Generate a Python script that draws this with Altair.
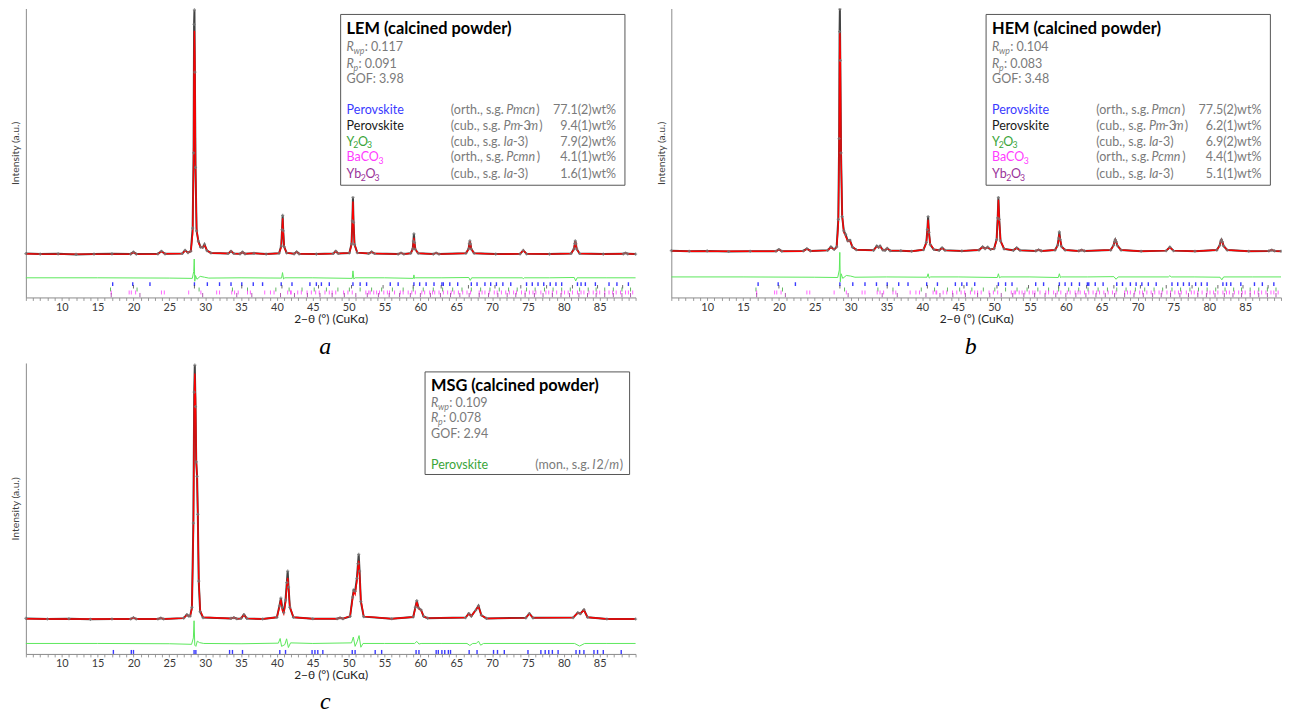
import altair as alt
import pandas as pd

# ---------------- data ----------------
# x-axis tick labels and minor ticks
X_LABELS = [10, 15, 20, 25, 30, 35, 40, 45, 50, 55, 60, 65, 70, 75, 80, 85]
X_MINOR = list(range(5, 91))

# Panel a : LEM
theta_a = [5.0, 7.0, 9.5, 12.0, 14.5, 17.0, 19.6, 20.0, 20.4, 23.4, 23.9, 24.4,
           26.8, 27.2, 27.6, 28.0, 28.25, 28.38, 28.45, 28.5, 28.56, 28.65, 28.8, 29.05, 29.35, 29.65, 29.9, 30.25, 30.8,
           33.2, 33.6, 34.0, 34.85, 35.2, 35.55, 36.8, 38.5,
           40.3, 40.6, 40.72, 40.8, 40.88, 41.0, 41.35, 42.4, 42.75, 43.1, 45.5, 47.85, 48.2, 48.55,
           50.1, 50.4, 50.52, 50.6, 50.68, 50.82, 51.2, 52.8, 53.2, 53.6, 56.9, 57.3, 57.7,
           58.65, 58.93, 59.03, 59.1, 59.18, 59.3, 59.7, 61.8, 62.2, 62.6,
           66.35, 66.72, 66.83, 66.9, 66.98, 67.1, 67.5, 70.5, 73.9, 74.35, 74.8, 78.0,
           81.0, 81.42, 81.53, 81.6, 81.68, 81.8, 82.2, 85.5, 88.3, 88.6, 88.9, 90.0]
obs_a = [15.2, 15.0, 15.1, 14.9, 15.0, 15.1, 15.0, 15.7, 15.0, 15.1, 16.0, 15.1,
         15.2, 16.3, 15.5, 16.0, 24.0, 50.0, 94.5, 99.5, 78.0, 45.0, 23.0, 19.5, 17.4, 17.3, 18.4, 16.2, 15.4,
         15.2, 16.0, 15.2, 15.1, 15.7, 15.1, 15.3, 15.0,
         15.3, 17.8, 23.5, 28.4, 23.0, 17.6, 15.4, 15.1, 15.8, 15.1, 15.0, 15.2, 16.0, 15.2,
         15.4, 18.5, 26.5, 34.6, 26.0, 18.3, 15.5, 15.2, 15.8, 15.2, 15.0, 15.4, 15.0,
         15.3, 16.8, 19.5, 22.0, 19.0, 16.6, 15.3, 15.0, 15.4, 15.0,
         15.3, 16.8, 18.6, 19.6, 18.5, 16.7, 15.3, 15.0, 15.1, 16.3, 15.1, 15.0,
         15.2, 16.8, 18.7, 19.6, 18.5, 16.7, 15.2, 15.0, 15.1, 15.4, 15.1, 15.0]
calc_a = [15.1, 15.0, 15.0, 15.0, 15.0, 15.0, 15.0, 15.6, 15.0, 15.0, 15.9, 15.1,
          15.2, 16.2, 15.5, 16.0, 22.0, 46.0, 80.0, 92.3, 82.0, 46.0, 24.0, 19.0, 17.5, 17.2, 18.2, 16.3, 15.4,
          15.2, 16.1, 15.2, 15.1, 15.7, 15.1, 15.3, 15.0,
          15.3, 17.6, 23.0, 27.4, 23.0, 17.6, 15.4, 15.1, 15.8, 15.1, 15.0, 15.2, 16.0, 15.2,
          15.4, 18.3, 26.0, 33.2, 26.0, 18.3, 15.5, 15.2, 15.8, 15.2, 15.0, 15.4, 15.0,
          15.3, 16.6, 19.0, 20.6, 19.0, 16.6, 15.3, 15.0, 15.4, 15.0,
          15.3, 16.7, 18.5, 19.5, 18.5, 16.7, 15.3, 15.0, 15.1, 16.3, 15.1, 15.0,
          15.2, 16.7, 18.6, 19.5, 18.5, 16.7, 15.2, 15.0, 15.1, 15.4, 15.1, 15.0]
diff_theta_a = [5, 15, 25, 28.2, 28.4, 28.47, 28.55, 28.65, 28.85, 29.3, 29.9, 30.5,
                35, 40.65, 40.78, 40.92, 41.1, 45, 50.5, 50.6, 50.72, 50.9, 55, 59.02, 59.1, 59.18, 59.3,
                63, 66.75, 66.95, 67.15, 74.2, 74.35, 74.5, 78, 81.45, 81.65, 81.85, 86, 90]
diff_a = [6.8, 6.8, 6.7, 6.6, 9.0, 13.3, 5.6, 7.6, 6.3, 7.3, 7.0, 6.7,
          6.8, 6.7, 8.6, 6.4, 6.8, 6.8, 6.6, 9.2, 6.4, 6.8, 6.8, 6.6, 7.8, 6.6, 6.8,
          6.8, 6.9, 5.9, 6.8, 6.8, 6.5, 6.8, 6.8, 6.9, 5.7, 6.8, 6.8, 6.8]

# Panel b : HEM
theta_b = [5.0, 7.5, 10.0, 13.0, 16.0, 19.6, 20.0, 20.4, 23.4, 23.9, 24.4,
           26.8, 27.25, 27.7, 28.05, 28.28, 28.4, 28.46, 28.5, 28.56, 28.66, 28.82, 29.05, 29.3, 29.6, 29.9, 30.25, 30.8,
           33.2, 33.65, 33.9, 34.1, 34.5, 34.8, 35.1, 35.5, 37.0, 38.5,
           40.15, 40.55, 40.7, 40.8, 40.92, 41.1, 41.6, 42.35, 42.75, 43.15, 45.5, 47.9, 48.4, 48.75, 49.1, 49.5,
           50.0, 50.35, 50.5, 50.6, 50.72, 50.9, 51.4, 52.7, 53.15, 53.6, 55.8, 56.2, 56.6,
           58.5, 58.85, 59.0, 59.1, 59.22, 59.4, 59.9, 61.8, 62.2, 62.6,
           66.25, 66.65, 66.8, 66.9, 67.02, 67.2, 67.7, 70.5, 74.0, 74.5, 75.0, 78.0,
           81.05, 81.45, 81.6, 81.7, 81.82, 82.0, 82.5, 85.5, 88.3, 88.7, 89.1, 90.0]
obs_b = [16.2, 16.0, 16.1, 15.9, 16.0, 16.0, 16.6, 16.0, 16.1, 16.9, 16.1,
         16.3, 17.5, 16.6, 17.5, 27.0, 55.0, 92.0, 99.8, 82.0, 50.0, 28.0, 23.0, 21.8, 19.6, 19.8, 17.4, 16.5,
         16.3, 17.8, 17.3, 17.8, 16.4, 16.3, 17.0, 16.2, 16.2, 16.0,
         16.5, 19.0, 23.5, 28.0, 22.5, 18.3, 16.6, 16.3, 17.2, 16.3, 16.1, 16.4, 17.5, 16.9, 17.4, 16.6,
         16.9, 20.0, 27.5, 34.6, 27.0, 19.5, 16.8, 16.3, 17.2, 16.3, 16.1, 16.5, 16.1,
         16.4, 18.0, 20.5, 22.7, 20.0, 17.6, 16.4, 16.1, 16.4, 16.1,
         16.4, 18.0, 19.4, 20.0, 19.3, 17.9, 16.4, 16.0, 16.2, 17.4, 16.2, 16.0,
         16.4, 18.0, 19.5, 20.0, 19.3, 17.8, 16.4, 16.0, 16.1, 16.4, 16.1, 16.0]
calc_b = [16.1, 16.0, 16.0, 16.0, 16.0, 16.0, 16.5, 16.0, 16.0, 16.8, 16.1,
          16.3, 17.3, 16.6, 17.4, 25.0, 52.0, 82.0, 91.6, 84.0, 50.0, 28.5, 22.5, 21.2, 19.5, 19.6, 17.5, 16.5,
          16.3, 17.6, 17.2, 17.7, 16.4, 16.3, 17.0, 16.2, 16.2, 16.0,
          16.5, 18.8, 23.0, 26.9, 22.5, 18.5, 16.6, 16.3, 17.1, 16.3, 16.1, 16.4, 17.4, 16.9, 17.3, 16.6,
          16.9, 19.8, 27.0, 33.8, 27.0, 19.6, 16.8, 16.3, 17.1, 16.3, 16.1, 16.5, 16.1,
          16.4, 17.9, 20.0, 21.8, 20.0, 17.6, 16.4, 16.1, 16.4, 16.1,
          16.4, 18.0, 19.3, 20.0, 19.3, 17.9, 16.4, 16.0, 16.2, 17.3, 16.2, 16.0,
          16.4, 17.9, 19.4, 20.0, 19.3, 17.8, 16.4, 16.0, 16.1, 16.4, 16.1, 16.0]
diff_theta_b = [5, 15, 25, 28.2, 28.42, 28.49, 28.56, 28.68, 28.9, 29.4, 30.0, 30.6,
                35, 40.65, 40.8, 40.95, 41.15, 45, 50.45, 50.6, 50.75, 50.95, 55, 58.95, 59.1, 59.25, 59.4,
                63, 66.7, 67.0, 67.3, 74.3, 74.5, 74.7, 78, 81.5, 81.75, 82.0, 86, 90]
diff_b = [7.1, 7.1, 7.0, 6.9, 9.5, 15.6, 5.4, 8.2, 6.6, 7.6, 7.4, 7.0,
          7.1, 7.0, 8.2, 6.7, 7.1, 7.1, 6.9, 8.2, 6.8, 7.1, 7.1, 6.9, 8.2, 6.9, 7.1,
          7.1, 7.2, 6.3, 7.1, 7.1, 7.5, 7.1, 7.1, 7.0, 6.1, 7.1, 7.1, 7.1]

# Panel c : MSG
theta_c = [5.0, 8.0, 11.0, 14.0, 17.0, 19.6, 20.0, 20.4, 23.4, 23.8, 24.2,
           27.0, 27.45, 27.7, 27.9, 28.15, 28.35, 28.47, 28.55, 28.65, 28.75, 28.87, 28.97, 29.1, 29.3, 29.7,
           33.6, 34.0, 34.4, 35.0, 35.4, 35.8, 38.0,
           40.0, 40.35, 40.55, 40.75, 40.95, 41.2, 41.38, 41.5, 41.62, 41.8, 42.3, 45.0, 48.4, 48.8, 49.2,
           50.2, 50.55, 50.7, 50.9, 51.15, 51.3, 51.4, 51.52, 51.7, 52.1, 56.0,
           59.0, 59.3, 59.5, 59.75, 60.1, 60.45, 61.0,
           66.3, 66.75, 67.1, 67.7, 68.1, 68.5, 69.2, 74.7, 75.2, 75.7,
           81.3, 81.95, 82.3, 82.8, 83.3, 86.0, 90.0]
obs_c = [12.2, 12.0, 12.1, 11.9, 12.0, 12.0, 12.5, 12.0, 12.0, 12.3, 12.0,
         12.3, 13.5, 13.0, 13.0, 16.0, 45.0, 90.0, 99.3, 85.0, 66.0, 61.0, 48.0, 25.0, 14.5, 12.5,
         12.2, 12.5, 12.1, 12.2, 13.5, 12.2, 12.0,
         12.6, 16.5, 19.2, 16.0, 14.2, 18.5, 24.5, 28.5, 23.0, 16.0, 12.6, 12.1, 12.1, 12.4, 12.1,
         12.9, 19.5, 21.9, 21.5, 26.0, 31.0, 34.2, 28.5, 18.0, 12.8, 12.1,
         12.7, 16.0, 18.3, 15.8, 15.1, 12.9, 12.3,
         12.5, 13.9, 13.0, 15.0, 16.5, 13.3, 12.2, 12.4, 13.9, 12.4,
         12.5, 14.2, 13.8, 15.2, 12.6, 12.0, 12.0]
calc_c = [12.1, 12.0, 12.0, 12.0, 12.0, 12.0, 12.4, 12.0, 12.0, 12.3, 12.0,
          12.3, 13.4, 13.0, 13.0, 15.5, 42.0, 84.0, 96.4, 88.0, 67.0, 60.5, 48.0, 26.0, 15.0, 12.6,
          12.2, 12.5, 12.1, 12.2, 13.5, 12.2, 12.0,
          12.6, 16.2, 18.8, 15.0, 13.8, 17.5, 23.5, 26.2, 22.5, 16.2, 12.6, 12.1, 12.1, 12.4, 12.1,
          13.0, 19.0, 21.4, 20.5, 25.0, 30.0, 32.0, 28.0, 18.5, 12.9, 12.1,
          12.7, 15.8, 18.0, 15.6, 15.0, 12.9, 12.3,
          12.5, 13.8, 13.0, 15.0, 16.4, 13.3, 12.2, 12.4, 13.8, 12.4,
          12.5, 14.1, 13.8, 15.1, 12.6, 12.0, 12.0]
diff_theta_c = [5, 15, 25, 28.1, 28.35, 28.45, 28.55, 28.7, 28.9, 29.2, 29.8,
                35, 40.2, 40.45, 40.65, 41.1, 41.35, 41.6, 41.9,
                45, 50.4, 50.65, 50.9, 51.2, 51.45, 51.7, 52.0,
                55, 59.2, 59.5, 59.8, 60.1,
                63, 66.5, 66.9, 67.3, 67.8, 68.1, 68.4, 68.8,
                75, 81.5, 82.2, 82.9, 86, 90]
diff_c = [3.6, 3.6, 3.5, 3.3, 5.5, 11.4, 3.0, 2.6, 4.4, 3.9, 3.6,
          3.5, 3.7, 5.3, 2.6, 3.2, 5.2, 2.2, 3.8,
          3.6, 3.8, 5.8, 2.6, 4.3, 6.3, 2.3, 3.6,
          3.6, 3.6, 4.3, 3.4, 3.6,
          3.6, 3.6, 2.9, 3.6, 3.6, 4.4, 3.0, 3.6,
          3.6, 3.6, 2.7, 3.6, 3.6, 3.6]

# Bragg reflection positions (2-theta)
refl_perov_orth = [17.1, 19.9, 22.3, 28.5, 30.3, 32.0, 33.6, 35.1, 36.7, 38.0, 40.6, 42.1, 44.6, 45.5, 46.2,
                   47.3, 50.6, 51.6, 52.5, 55.8, 56.9, 59.1, 59.9, 60.8, 61.9, 63.0, 63.2, 64.1, 65.2, 67.1,
                   67.9, 69.0, 69.8, 70.6, 71.5, 72.6, 74.8, 75.6, 76.4, 77.2, 78.1, 78.9, 79.7, 81.9, 82.4,
                   83.0, 84.4, 86.3, 87.4, 89.0]
refl_perov_cub = [20.0, 28.5, 35.1, 40.7, 45.8, 50.4, 54.8, 59.0, 62.9, 66.7, 70.4, 74.0, 77.6, 81.2, 84.7, 88.2]
refl_y2o3 = [16.8, 20.5, 29.15, 33.8, 35.9, 39.85, 41.7, 43.5, 45.2, 46.9, 48.5, 50.1, 51.6, 53.2, 54.6, 56.1,
             57.6, 59.0, 60.4, 61.8, 63.1, 64.5, 65.8, 67.1, 68.4, 69.7, 71.0, 72.3, 73.5, 74.8, 76.0, 77.3,
             78.5, 79.7, 80.9, 82.2, 83.4, 84.5, 85.7, 86.9, 88.1, 89.3]
refl_baco3 = [16.9, 19.4, 19.7, 20.3, 23.9, 24.3, 27.7, 29.4, 31.6, 32.0, 33.7, 34.1, 34.6, 35.9, 36.3, 38.3,
              39.1, 39.6, 41.5, 41.9, 42.0, 42.9, 43.4, 44.2, 44.8, 45.4, 45.9, 46.7, 47.3, 47.7, 48.2, 49.3,
              49.9, 50.5, 52.4, 52.8, 53.0, 53.5, 53.9, 54.3, 54.9, 55.4, 55.7, 56.4, 57.2, 57.6, 58.3, 58.8,
              59.3, 60.2, 60.6, 61.3, 61.7, 62.0, 62.6, 63.2, 63.8, 64.3, 64.7, 65.3, 65.9, 66.5, 67.0, 68.2,
              68.6, 69.0, 69.6, 70.3, 70.7, 71.3, 71.9, 72.4, 73.0, 73.4, 74.1, 74.6, 75.2, 75.7, 76.1, 76.8,
              77.5, 77.9, 78.4, 79.0, 79.7, 80.1, 80.6, 81.2, 81.9, 82.4, 82.8, 83.5, 84.1, 84.6, 85.0, 85.7,
              86.3, 86.8, 87.3, 87.9, 88.6, 89.0, 89.6]
refl_yb2o3 = [16.9, 20.9, 29.65, 34.4, 36.5, 40.5, 42.45, 44.25, 46.0, 47.7, 49.4, 51.0, 52.6, 54.15, 55.65,
              57.1, 58.6, 60.0, 61.4, 62.8, 64.2, 65.5, 66.8, 68.2, 69.5, 70.8, 72.1, 73.3, 74.6, 75.9, 77.1,
              78.4, 79.6, 80.8, 82.1, 83.3, 84.5, 85.7, 86.9, 88.1, 89.3]
refl_perov_mono = [17.2, 19.7, 20.0, 28.45, 28.7, 33.4, 33.8, 35.2, 40.4, 41.2, 44.9, 45.3, 45.7, 46.4, 50.5,
                   50.9, 53.7, 54.6, 59.4, 59.8, 62.2, 62.5, 63.0, 63.4, 63.9, 64.2, 66.8, 67.9, 70.2, 70.75,
                   71.7, 75.0, 76.8, 77.4, 77.9, 78.4, 79.2, 81.7, 82.2, 82.8, 84.2, 84.7, 85.5, 88.0]

# ---------------- style ----------------
FONT = "Lato"
GRAY = "#7a7a7a"
BLUE = "#3a3aff"
BLACK = "#1a1a1a"
GREEN = "#3aa53a"
MAGENTA = "#ff3cff"
PURPLE = "#9a339a"
DIFF = "#5ce85c"
W = 614
HA = 291
HC = 293
FS = 12.6
SUB = 8.8
XTITLE = "2\u2212\u03b8 (\u00b0) (CuK\u03b1)"
YTITLE = "Intensity (a.u.)"

ONE = pd.DataFrame({"k": [0]})

XAXIS = alt.Axis(values=X_MINOR, labelExpr=f"indexof({X_LABELS}, datum.value) >= 0 ? datum.label : ''",
                 tickSize=3, tickColor="#9a9a9a", domainColor="#8a8a8a", grid=False,
                 labelFont=FONT, labelFontSize=11, labelColor="#3a3a3a", labelPadding=1,
                 labelOverlap=False, labelFlush=False, labelBound=False,
                 titleFont=FONT, titleFontSize=12, titleColor="#222222", titlePadding=1,
                 titleFontWeight="normal")
YAXIS = alt.Axis(labels=False, ticks=False, domainColor="#8a8a8a", grid=False,
                 titleFont=FONT, titleFontSize=10.5, titleColor="#404040", titlePadding=5,
                 titleFontWeight="normal")


def X():
    return alt.X("theta:Q", scale=alt.Scale(domain=[5, 90], nice=False, zero=False), title=XTITLE, axis=XAXIS)


def Y(f):
    return alt.Y(f + ":Q", scale=alt.Scale(domain=[0, 100], nice=False, zero=False), title=YTITLE, axis=YAXIS)


def txt(x, y, s, size=FS, color=GRAY, style="normal", weight="normal", align="left"):
    return alt.Chart(ONE).mark_text(text=s, font=FONT, fontSize=size, color=color, fontStyle=style,
                                    fontWeight=weight, align=align, baseline="middle").encode(
        x=alt.value(x), y=alt.value(y))


def box(x1, x2, y1, y2):
    return alt.Chart(ONE).mark_rect(fill="white", stroke="#555555", strokeWidth=1).encode(
        x=alt.value(x1), x2=alt.value(x2), y=alt.value(y1), y2=alt.value(y2))


def stats(x0, ys, vals):
    y1, y2, y3 = ys
    return [txt(x0, y1, "R", style="italic"), txt(x0 + 7, y1 + 4, "wp", size=SUB, style="italic"),
            txt(x0 + 18.3, y1, ": " + vals[0]),
            txt(x0, y2, "R", style="italic"), txt(x0 + 7, y2 + 4, "p", size=SUB, style="italic"),
            txt(x0 + 12, y2, ": " + vals[1]),
            txt(x0, y3, "GOF: " + vals[2])]


def pieces(x0, y, parts, color):
    out = []
    for s, dx, kind in parts:
        if kind == "sub":
            out.append(txt(x0 + dx, y + 4, s, size=SUB, color=color))
        elif kind == "i":
            out.append(txt(x0 + dx, y, s, color=color, style="italic"))
        else:
            out.append(txt(x0 + dx, y, s, color=color))
    return out


NAME_PEROV = [("Perovskite", 0, "n")]
NAME_Y2O3 = [("Y", 0, "n"), ("2", 6.8, "sub"), ("O", 11.4, "n"), ("3", 20.6, "sub")]
NAME_BACO3 = [("BaCO", 0, "n"), ("3", 32.0, "sub")]
NAME_YB2O3 = [("Yb", 0, "n"), ("2", 14.3, "sub"), ("O", 19.0, "n"), ("3", 28.2, "sub")]
SG_PMCN = [("(orth., s.g. ", 0, "n"), ("Pmcn", 55.7, "i"), (")", 86.0, "n")]
SG_PM3M = [("(cub., s.g. ", 0, "n"), ("Pm", 53.0, "i"), ("-3", 68.4, "n"), ("m", 78.0, "i"), (")", 89.0, "n")]
SG_IA3 = [("(cub., s.g. ", 0, "n"), ("Ia", 53.0, "i"), ("-3)", 62.5, "n")]
SG_PCMN = [("(orth., s.g. ", 0, "n"), ("Pcmn", 55.7, "i"), (")", 86.5, "n")]
SG_I2M = [("(mon., s.g. ", 0, "n"), ("I", 57.4, "i"), ("2/", 61.7, "n"), ("m", 74.5, "i"), (")", 85.0, "n")]


def legend_ab(title, vals, wts):
    x0, xc2, xc3 = 323.0, 428.0, 594.3
    layers = [box(317.0, 603.3, 6, 178),
              txt(x0, 21, title, size=16.5, color="#000000", weight="bold")]
    layers += stats(x0, (39, 55.7, 70.7), vals)
    rows = [(NAME_PEROV, BLUE, SG_PMCN), (NAME_PEROV, BLACK, SG_PM3M), (NAME_Y2O3, GREEN, SG_IA3),
            (NAME_BACO3, MAGENTA, SG_PCMN), (NAME_YB2O3, PURPLE, SG_IA3)]
    ys = [102.7, 118.3, 134.0, 150.0, 166.3]
    for (name, col, sg), y, wt in zip(rows, ys, wts):
        layers += pieces(x0, y, name, col)
        layers += pieces(xc2, y, sg, GRAY)
        layers.append(txt(xc3, y, wt, align="right"))
    return layers


def legend_c(title, vals):
    x0 = 408.0
    layers = [box(402.0, 608.0, 9, 112.3),
              txt(x0, 23.5, title, size=16.5, color="#000000", weight="bold")]
    layers += stats(x0, (40.3, 55.7, 71.3), vals)
    layers += pieces(x0, 103, NAME_PEROV, GREEN)
    layers += pieces(513.0, 103, SG_I2M, GRAY)
    return layers


def panel(theta, obs, calc, dth, dv, tick_specs, legend_layers, letter, h, letter_offset):
    df = pd.DataFrame({"theta": theta, "obs": obs, "calc": calc})
    dd = pd.DataFrame({"theta": dth, "diff": dv})
    layers = [alt.Chart(dd).mark_line(color=DIFF, strokeWidth=1).encode(x=X(), y=Y("diff"))]
    for pos, col, y1, y2, sw in tick_specs:
        layers.append(alt.Chart(pd.DataFrame({"theta": pos})).mark_rule(color=col, strokeWidth=sw).encode(
            x=X(), y=alt.value(y1), y2=alt.value(y2)))
    layers.append(alt.Chart(df).mark_line(color="#222222", strokeWidth=2.0, opacity=0.85).encode(x=X(), y=Y("obs")))
    layers.append(alt.Chart(df).mark_line(color="#ff0000", strokeWidth=1.4).encode(x=X(), y=Y("calc")))
    layers.append(alt.Chart(df).mark_point(shape="cross", size=10, color="#777777", filled=True,
                                           opacity=0.8).encode(x=X(), y=Y("obs")))
    layers += legend_layers
    return alt.layer(*layers).properties(
        width=W, height=h,
        title=alt.TitleParams(letter, orient="bottom", font="Liberation Serif", fontStyle="italic",
                              fontSize=24, fontWeight="normal", color="#000000", anchor="middle",
                              frame="bounds", baseline="alphabetic", offset=letter_offset))


ticks_ab = [(refl_perov_orth, BLUE, 275.7, 279.5, 1.4),
            (refl_perov_cub, "#444444", 278.5, 282.0, 0.8),
            (refl_y2o3, GREEN, 281.0, 285.0, 0.8),
            (refl_baco3, MAGENTA, 284.0, 288.0, 0.8),
            (refl_yb2o3, PURPLE, 286.5, 290.7, 0.8)]
ticks_c = [(refl_perov_mono, BLUE, 289.0, 293.0, 1.4)]

pa = panel(theta_a, obs_a, calc_a, diff_theta_a, diff_a, ticks_ab,
           legend_ab("LEM (calcined powder)", ("0.117", "0.091", "3.98"),
                     ["77.1(2)wt%", "9.4(1)wt%", "7.9(2)wt%", "4.1(1)wt%", "1.6(1)wt%"]), "a", HA, 29.5)
pb = panel(theta_b, obs_b, calc_b, diff_theta_b, diff_b, ticks_ab,
           legend_ab("HEM (calcined powder)", ("0.104", "0.083", "3.48"),
                     ["77.5(2)wt%", "6.2(1)wt%", "6.9(2)wt%", "4.4(1)wt%", "5.1(1)wt%"]), "b", HA, 29.5)
pc = panel(theta_c, obs_c, calc_c, diff_theta_c, diff_c, ticks_c,
           legend_c("MSG (calcined powder)", ("0.109", "0.078", "2.94")), "c", HC, 28.0)

chart = alt.vconcat(alt.hconcat(pa, pb, spacing=17), pc, spacing=2).properties(
    padding={"left": 3, "top": -6, "right": -3, "bottom": -2.5}
).configure_view(stroke=None)

chart.save("out.html", embed_options={"renderer": "svg", "actions": False})
